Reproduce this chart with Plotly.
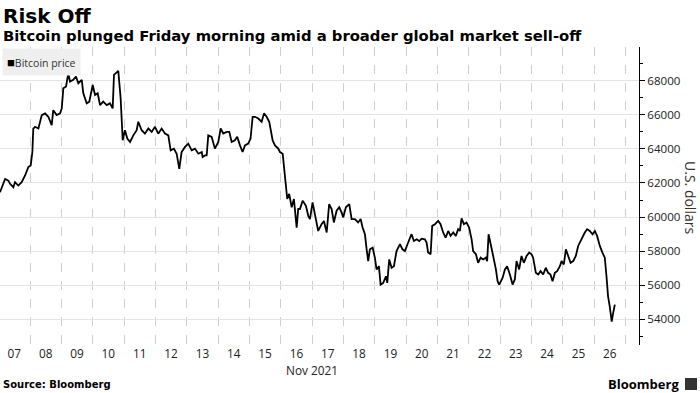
import pandas as pd
import plotly.graph_objects as go

# Hours since 2021-11-07 00:00 and Bitcoin price (USD)
hours = [1.0, 3.6, 4.9, 7.4, 8.7, 11.2, 12.5, 15.0, 17.6, 20.2, 22.7, 24.5, 25.8, 26.5, 27.8,
         30.4, 33.0, 35.5, 38.0, 40.6, 41.8, 44.4, 47.0, 48.3, 49.5, 51.6, 53.3, 54.6, 57.1,
         59.2, 61.0, 63.6, 64.8, 67.4, 69.4, 72.0, 73.8, 75.8, 77.6, 80.1, 82.7, 85.2, 87.3,
         88.3, 89.8, 91.6, 93.4, 95.0, 96.7, 98.5, 100.6, 103.1, 105.7, 106.9, 109.5, 112.0,
         114.6, 117.2, 119.7, 122.2, 124.8, 127.4, 129.9, 131.7, 134.2, 136.3, 138.3, 140.1,
         142.7, 145.2, 147.8, 150.3, 152.9, 155.5, 156.2, 158.0, 159.3, 160.5, 163.1, 165.6,
         168.2, 170.0, 172.0, 174.6, 176.6, 178.4, 180.9, 182.7, 184.8, 186.8, 188.6, 191.1,
         192.9, 194.5, 196.3, 198.8, 201.4, 203.2, 205.2, 207.2, 209.8, 211.6, 214.1, 215.4,
         217.5, 219.2, 221.0, 222.5, 224.4, 226.1, 228.2, 229.4, 230.7, 232.8, 235.3, 237.1,
         238.4, 240.4, 242.2, 244.7, 247.3, 249.1, 251.2, 253.1, 255.0, 256.7, 258.8, 260.8,
         262.6, 263.9, 265.9, 268.5, 270.3, 272.8, 275.3, 277.2, 278.7, 280.5, 281.8, 283.0,
         284.3, 286.4, 288.1, 289.4, 291.2, 292.5, 294.5, 296.6, 297.6, 299.1, 300.9, 302.7,
         304.7, 307.3, 309.3, 311.1, 313.6, 316.2, 318.0, 320.1, 322.1, 323.9, 326.4, 327.7,
         328.9, 330.8, 332.0, 334.1, 336.6, 338.4, 340.4, 342.3, 344.3, 346.1, 348.1, 350.1,
         351.9, 353.2, 354.5, 356.3, 358.3, 360.3, 362.2, 363.4, 365.5, 367.2, 369.1, 371.0,
         373.1, 374.1, 375.2, 376.7, 378.7, 380.8, 382.1, 383.3, 385.9, 387.7, 389.4, 391.5,
         393.6, 395.3, 396.6, 398.6, 400.4, 402.2, 404.3, 406.3, 408.1, 409.3, 411.4, 413.2,
         415.0, 417.0, 419.0, 420.8, 422.6, 424.2, 426.0, 427.7, 429.8, 431.1, 432.8, 434.4,
         436.1, 438.0, 440.0, 442.0, 443.8, 445.6, 447.1, 448.9, 450.7, 452.7, 454.8, 456.6,
         458.3, 460.4, 462.4, 464.2, 465.5, 466.7, 468.0, 469.5, 470.6, 471.9]
prices = [61460, 62050, 62240, 62140, 61950, 61750, 62050, 61850, 62050, 62440, 62935, 63030,
          63820, 65200, 65300, 65200, 65990, 66090, 65890, 65400, 66280, 65990, 66090, 66380,
          67570, 67670, 68455, 67960, 68060, 68260, 67860, 68060, 67270, 66680, 66780, 67760,
          67170, 67270, 66580, 66780, 66580, 66680, 66380, 68355, 68455, 68590, 66980, 64510,
          65100, 64610, 64410, 64800, 65100, 65600, 65100, 64900, 65200, 65000, 65300, 64900,
          65200, 64900, 64800, 63920, 64020, 63720, 62830, 63820, 64120, 64310, 63920, 64020,
          63720, 63820, 63530, 63620, 63620, 64800, 64710, 64020, 64410, 65200, 64900, 65000,
          65000, 64410, 64510, 64710, 64210, 63820, 64210, 64310, 64610, 65890, 65890, 65790,
          65600, 66090, 65890, 65600, 64510, 64210, 64020, 63820, 63720, 62240, 61060, 61360,
          60570, 61060, 59380, 60470, 60470, 60960, 60660, 60070, 59880, 60860, 60070, 59180,
          59580, 59770, 59090, 60760, 60470, 59680, 60370, 60570, 60270, 59980, 60570, 60760,
          59880, 59880, 59680, 59880, 59380, 58990, 58100, 57410, 58100, 58200, 57610, 56920,
          57110, 56030, 56130, 56520, 56130, 57510, 57020, 57110, 58000, 58400, 58100, 58000,
          58500, 58990, 58590, 58690, 58590, 58730, 58690, 58500, 57910, 57810, 59480, 59580,
          59770, 59580, 59090, 58790, 59180, 58890, 59090, 58890, 59280, 59180, 59920, 59580,
          59680, 59380, 58690, 58000, 57810, 57310, 57610, 57510, 57610, 57410, 58990, 58500,
          57710, 56920, 56230, 56030, 56420, 56920, 57110, 56620, 56030, 56330, 57410, 56920,
          57710, 57310, 57710, 57910, 57810, 57610, 56720, 56620, 56820, 56620, 57020, 56720,
          56620, 56230, 56720, 56820, 57110, 57410, 57210, 58100, 57710, 57310, 57410, 57710,
          58300, 58590, 58890, 59090, 59280, 59180, 58990, 59180, 58890, 58300, 57910, 57610,
          56520, 55340, 54750, 53860, 54350, 54850]

start = pd.Timestamp("2021-11-07 00:00")
times = [start + pd.Timedelta(hours=h) for h in hours]

TITLE = "Risk Off"
SUBTITLE = "Bitcoin plunged Friday morning amid a broader global market sell-off"
SERIES = "Bitcoin price"
Y_TITLE = "U.S. dollars"
X_PERIOD = "Nov 2021"
SOURCE = "Source: Bloomberg"
BRAND = "Bloomberg"

W, H = 700, 393
L, R, T, B = 0, 639, 47, 345


def px(x):
    return (x - L) / (R - L)


def py(y):
    return (B - y) / (B - T)


TICK_FONT = "Open Sans, Noto Sans, sans-serif"
BOLD_FONT = "DejaVu Sans, Verdana, sans-serif"

fig = go.Figure()
fig.add_trace(go.Scatter(x=times, y=prices, mode="lines",
                         line=dict(color="#000000", width=1.8), name=SERIES,
                         showlegend=False, hoverinfo="skip"))

fig.update_layout(
    width=W, height=H,
    margin=dict(l=L, r=W - R, t=T, b=H - B),
    paper_bgcolor="#ffffff", plot_bgcolor="#ffffff",
    showlegend=False,
    xaxis=dict(
        type="date",
        range=[start + pd.Timedelta(hours=1.0), start + pd.Timedelta(hours=490.4)],
        tick0="2021-11-07", dtick=86400000, tickformat="%d",
        ticklabelmode="period",
        showgrid=True, gridcolor="#cfcfcf", griddash="dash", gridwidth=1,
        ticks="", showline=False, zeroline=False,
        tickfont=dict(family=TICK_FONT, size=11.8, color="#222222"),
    ),
    yaxis=dict(
        side="right", range=[52480, 69990],
        tick0=0, dtick=2000, tickformat="d",
        showgrid=True, gridcolor="#e4e4e4", gridwidth=1,
        showline=True, linecolor="#000000", linewidth=1,
        ticks="outside", ticklen=5, tickcolor="#000000", tickwidth=1,
        minor=dict(dtick=1000, tick0=0, ticks="outside", ticklen=3,
                   tickcolor="#000000", showgrid=False),
        zeroline=False,
        tickfont=dict(family=TICK_FONT, size=11.6, color="#222222"),
    ),
)

ann = []
ann.append(dict(text="<b>" + TITLE + "</b>", xref="paper", yref="paper",
                x=px(1), y=py(2), xanchor="left", yanchor="top", showarrow=False,
                font=dict(family=BOLD_FONT, size=20, color="#000000")))
ann.append(dict(text="<b>" + SUBTITLE + "</b>", xref="paper", yref="paper",
                x=px(1), y=py(25), xanchor="left", yanchor="top", showarrow=False,
                font=dict(family=BOLD_FONT, size=14.8, color="#000000")))
ann.append(dict(text="<span style='font-size:13px;color:#000'>■</span>" + SERIES,
                xref="paper", yref="paper",
                x=px(2), y=py(48), xanchor="left", yanchor="top", showarrow=False,
                bgcolor="#efefef", borderpad=4,
                font=dict(family=TICK_FONT, size=10.5, color="#333333")))
ann.append(dict(text=Y_TITLE, xref="paper", yref="paper",
                x=px(691), y=py(197), xanchor="center", yanchor="middle",
                textangle=90, showarrow=False,
                font=dict(family=TICK_FONT, size=14, color="#333333")))
ann.append(dict(text=X_PERIOD, xref="x", yref="paper",
                x="2021-11-17 00:00", y=py(370), xanchor="center", yanchor="middle",
                showarrow=False,
                font=dict(family=TICK_FONT, size=11.8, color="#222222")))
ann.append(dict(text="<b>" + SOURCE + "</b>", xref="paper", yref="paper",
                x=px(1), y=py(384), xanchor="left", yanchor="middle", showarrow=False,
                font=dict(family=BOLD_FONT, size=10, color="#000000")))
ann.append(dict(text="<b>" + BRAND + "</b>", xref="paper", yref="paper",
                x=px(681), y=py(384), xanchor="right", yanchor="middle", showarrow=False,
                font=dict(family="Open Sans, sans-serif", size=13, color="#000000")))
fig.update_layout(annotations=ann)

fig.add_shape(type="rect", xref="paper", yref="paper",
              x0=px(685), x1=px(697), y0=py(378), y1=py(390),
              fillcolor="#333333", line=dict(width=0))

fig.write_html("out.html", config={"displayModeBar": False},
               post_script="document.body.style.margin='0';document.body.style.padding='0';")
